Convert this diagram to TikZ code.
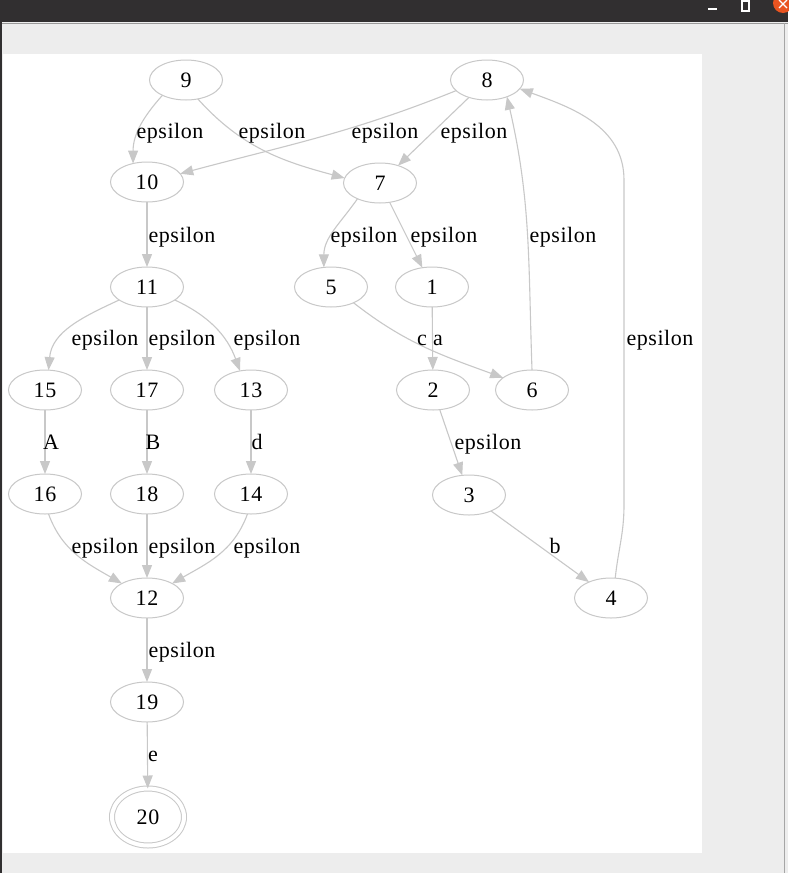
\documentclass[tikz,border=0pt]{standalone}
\usepackage{fontspec}
\setmainfont{Liberation Serif}[LetterSpace=2.5]
\usetikzlibrary{shapes.geometric,arrows.meta}

\definecolor{edgegray}{RGB}{200,200,200}
\definecolor{barcol}{RGB}{49,47,48}
\definecolor{wincol}{RGB}{237,237,237}
\definecolor{closecol}{RGB}{233,84,32}

\begin{document}
\begin{tikzpicture}[x=0.5pt,y=0.5pt,inner sep=0pt,outer sep=0pt,
    every node/.style={font=\fontsize{11}{13}\selectfont},
    state/.style={ellipse,draw=edgegray,line width=0.5pt,minimum width=36.5pt,minimum height=20pt},
    accept/.style={state,double,double distance=2pt,minimum width=36pt,minimum height=28.5pt},
    lbl/.style={anchor=base},
    trans/.style={edgegray,line width=0.55pt,-{Triangle[length=6.5pt,width=5pt]}}]
    \useasboundingbox (0,0) rectangle (788,-873);

    % window
    \fill[wincol] (0,0) rectangle (788,-873);
    \fill[barcol] (0,0) rectangle (788,-22);
    \draw[gray!80,line width=0.5pt] (0,-23) -- (788,-23);
    \draw[barcol,line width=1pt] (1,-22) -- (1,-873);
    \draw[gray!70,line width=0.5pt] (784,-23) -- (784,-873);
    \fill[white] (3,-54) rectangle (702,-853);
    \draw[white,line width=0.6pt] (708,-9) -- (717,-9);
    \draw[white,line width=0.6pt] (742,-1) rectangle (749,-11);
    \fill[closecol] (783,-3) circle (10);
    \draw[white,line width=0.6pt] (779,0) -- (787,-8) (787,0) -- (779,-8);

    % states
    \node[state] (n9) at (186,-80) {9};
    \node[state] (n8) at (487,-80) {8};
    \node[state] (n10) at (147,-182) {10};
    \node[state] (n7) at (380,-183) {7};
    \node[state] (n11) at (147,-287) {11};
    \node[state] (n5) at (331,-287) {5};
    \node[state] (n1) at (432,-287) {1};
    \node[state] (n15) at (45,-390) {15};
    \node[state] (n17) at (147,-390) {17};
    \node[state] (n13) at (251,-390) {13};
    \node[state] (n2) at (433,-390) {2};
    \node[state] (n6) at (532,-390) {6};
    \node[state] (n16) at (45,-494) {16};
    \node[state] (n18) at (147,-494) {18};
    \node[state] (n14) at (251,-494) {14};
    \node[state] (n3) at (469,-495) {3};
    \node[state] (n12) at (147,-598) {12};
    \node[state] (n4) at (611,-598) {4};
    \node[state] (n19) at (147,-702) {19};
    \node[accept] (n20) at (148,-817) {20};

    \coordinate (r4lo) at (624,-505);
    \coordinate (r4hi) at (624,-180);

    % transitions
    \draw[trans] (n9.213) to[out=228,in=90] (n10.127);
    \draw[trans] (n9.-58) to[out=-48,in=165] (n7.172);
    \draw[trans] (n8.199) to[out=202,in=15] (n10.14);
    \draw[trans] (n8) -- (n7);
    \draw[trans] (n10) -- (n11);
    \draw[trans] (n7.215) to[out=235,in=90] (n5.110);
    \draw[trans] (n7) -- (n1);
    \draw[trans] (n6.north) to[out=92,in=-77] (n8.-40);
    \draw[trans] (n4.78) to[out=84,in=-90] (r4lo) -- (r4hi) to[out=90,in=-20] (n8.-15);
    \draw[trans] (n11.205) to[out=205,in=85] (n15.80);
    \draw[trans] (n11) -- (n17);
    \draw[trans] (n11.-25) to[out=-25,in=110] (n13.120);
    \draw[trans] (n5.-35) to[out=-38,in=160] (n6.157);
    \draw[trans] (n1) -- (n2);
    \draw[trans] (n15) -- (n16);
    \draw[trans] (n17) -- (n18);
    \draw[trans] (n13) -- (n14);
    \draw[trans] (n2) -- (n3);
    \draw[trans] (n3) -- (n4);
    \draw[trans] (n16.-80) to[out=-70,in=150] (n12.150);
    \draw[trans] (n18) -- (n12);
    \draw[trans] (n14.-100) to[out=-110,in=30] (n12.30);
    \draw[trans] (n12) -- (n19);
    \draw[trans] (n19) -- (n20);

    % labels
    \node[lbl] (l9x10) at (170,-138) {epsilon};
    \node[lbl] (l9x7) at (272,-138) {epsilon};
    \node[lbl] (l8x10) at (385,-138) {epsilon};
    \node[lbl] (l8x7) at (474,-138) {epsilon};
    \node[lbl] (l10x11) at (182,-242) {epsilon};
    \node[lbl] (l7x5) at (364,-242) {epsilon};
    \node[lbl] (l7x1) at (444,-242) {epsilon};
    \node[lbl] (l6x8) at (563,-242) {epsilon};
    \node[lbl] (l11x15) at (105,-345) {epsilon};
    \node[lbl] (l11x17) at (182,-345) {epsilon};
    \node[lbl] (l11x13) at (267,-345) {epsilon};
    \node[lbl] (l5x6) at (422,-345) {c};
    \node[lbl] (l1x2) at (438,-345) {a};
    \node[lbl] (l4x8) at (660,-345) {epsilon};
    \node[lbl] (l15x16) at (51,-449) {A};
    \node[lbl] (l17x18) at (153,-449) {B};
    \node[lbl] (l13x14) at (257,-449) {d};
    \node[lbl] (l2x3) at (488,-449) {epsilon};
    \node[lbl] (l3x4) at (555,-553) {b};
    \node[lbl] (l16x12) at (105,-553) {epsilon};
    \node[lbl] (l18x12) at (182,-553) {epsilon};
    \node[lbl] (l14x12) at (267,-553) {epsilon};
    \node[lbl] (l12x19) at (182,-657) {epsilon};
    \node[lbl] (l19x20) at (153,-761) {e};
\end{tikzpicture}
\end{document}
